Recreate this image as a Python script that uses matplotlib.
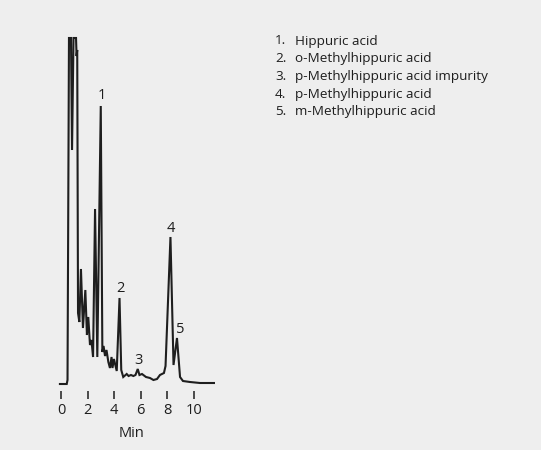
import numpy as np
import matplotlib
matplotlib.use('Agg')
import matplotlib.pyplot as plt

plt.rcParams['font.family'] = ['Open Sans', 'DejaVu Sans']

# chromatogram trace (min, relative signal)
time = [-0.08, 0.43, 0.49, 0.60, 0.75, 0.83, 0.94, 1.13, 1.17, 1.22,
        1.28, 1.38, 1.50, 1.65, 1.83, 1.95, 2.05, 2.18, 2.29, 2.41,
        2.56, 2.73, 2.99, 3.11, 3.20, 3.31, 3.42, 3.56, 3.68, 3.80,
        3.87, 3.98, 4.19, 4.40, 4.53, 4.68, 4.94, 5.08, 5.26, 5.44,
        5.60, 5.77, 5.90, 6.09, 6.39, 6.69, 6.95, 7.22, 7.44, 7.74,
        7.86, 8.23, 8.46, 8.72, 8.95, 9.17, 9.70, 10.45, 11.50]
signal = [0, 0, 4, 346, 346, 234, 346, 346, 328, 334,
          71, 62, 115, 56, 94, 49, 67, 39, 44, 27,
          175, 27, 278, 32, 38, 28, 34, 22, 16, 27,
          16, 25, 13, 86, 14, 7, 10, 8, 9, 8,
          9, 15, 9, 10, 7, 6, 4, 5, 9, 11,
          18, 147, 19, 46, 7, 3, 2, 1, 1]

peak_ids = ['1', '2', '3', '4', '5']
peak_time = [2.99, 4.40, 5.77, 8.23, 8.72]
peak_height = [278, 86, 15, 147, 46]

compounds = ['Hippuric acid', 'o-Methylhippuric acid',
             'p-Methylhippuric acid impurity', 'p-Methylhippuric acid',
             'm-Methylhippuric acid']
xticks = [0, 2, 4, 6, 8, 10]

bg = '#eeeeee'
fig = plt.figure(figsize=(5.41, 4.5), dpi=100, facecolor=bg)
ax = fig.add_axes([0, 0, 1, 1], facecolor=bg)

ax.plot(time, signal, color='#1e1e1e', lw=1.5, solid_joinstyle='miter')

# peak numbers
offs = [(1, 7.5), (1, 6.5), (0.3, 6), (0.5, 6), (2, 6)]
for pid, t, h, o in zip(peak_ids, peak_time, peak_height, offs):
    ax.annotate(pid, (t, h), xytext=o, textcoords='offset points',
                ha='center', va='center', fontsize=10.5, color='#1e1e1e')

ax.set_xlim(-61 / 13.3, 480 / 13.3)
ax.set_ylim(-66, 384)
for s in ['top', 'right', 'left']:
    ax.spines[s].set_visible(False)
ax.spines['bottom'].set_position(('data', -7))
ax.spines['bottom'].set_color('none')
ax.set_yticks([])
ax.set_xticks(xticks)
ax.tick_params(axis='x', direction='out', length=6, width=1.1, color='#1e1e1e',
               pad=3, labelsize=10.5, labelcolor='#1e1e1e')
ax.set_xlabel('Min', fontsize=10.5, color='#1e1e1e')
ax.xaxis.set_label_coords(132 / 541, 1 - 426 / 450)

# compound list
for i, name in enumerate(compounds):
    yy = 1 - (41 + i * 17.7) / 450
    fig.text(275 / 541, yy, f'{i + 1}.', ha='left', va='center',
             fontsize=9.7, color='#1e1e1e')
    fig.text(295 / 541, yy, name, ha='left', va='center',
             fontsize=9.7, color='#1e1e1e')

fig.savefig('out.png', dpi=100, facecolor=bg)
